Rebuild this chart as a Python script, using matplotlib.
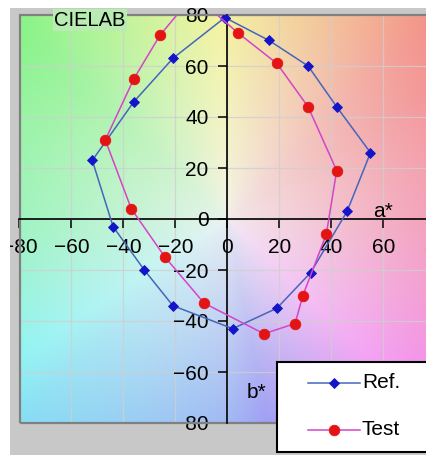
import numpy as np
import matplotlib
matplotlib.use("Agg")
import matplotlib.pyplot as plt
from matplotlib.colors import hsv_to_rgb
from matplotlib.patches import Rectangle
from matplotlib.lines import Line2D

plt.rcParams['font.family'] = ['Liberation Sans', 'DejaVu Sans']

# Chromaticity coordinates (a*, b*) of the two gamut outlines
ref_a = [-1, 16, 31, 42, 55, 46, 32, 19, 2, -21, -32, -44, -52, -36, -21, -1]
ref_b = [79, 70, 60, 44, 26, 3, -21, -35, -43, -34, -20, -3, 23, 46, 63, 79]
test_a = [-13, 4, 19, 31, 42, 38, 29, 26, 14, -9, -24, -37, -47, -36, -26, -13]
test_b = [88, 73, 61, 44, 19, -6, -30, -41, -45, -33, -15, 4, 31, 55, 72, 88]

series_names = ["Ref.", "Test"]
tick_values = list(range(-80, 81, 20))

W, H = 427, 455
fig = plt.figure(figsize=(W / 100, H / 100), dpi=100, facecolor='#c8c8c8')
ax = fig.add_axes([19.5 / W, 1 - 423 / H, 416 / W, 408 / H])
ax.set_xlim(-80, 80)
ax.set_ylim(-80, 80)

# Pastel a*/b* colour plane behind the plot
n = 300
ga, gb = np.meshgrid(np.linspace(-80, 80, n), np.linspace(-80, 80, n))
theta = np.degrees(np.arctan2(gb, ga)) % 360
hue_deg = np.interp(theta, [0, 45, 90, 135, 180, 225, 270, 315, 360],
                    [-18, 6, 57, 118, 142, 192, 222, 300, 342]) % 360
r = np.hypot(ga, gb)
sat = 0.40 * np.clip(r / 110, 0, 1) ** 0.9 + 0.04
val = np.full_like(r, 0.955)
rgb = hsv_to_rgb(np.dstack([hue_deg / 360, sat, val]))
ax.imshow(rgb, extent=[-80, 80, -80, 80], origin='lower', aspect='auto',
          interpolation='bilinear', zorder=0)

ax.grid(True, color='#cfcfcf', lw=0.9, alpha=0.8)
ax.set_xticks(tick_values)
ax.set_yticks(tick_values)

# Axes crossing at the origin
for side in ('right', 'top'):
    ax.spines[side].set_visible(False)
ax.spines['left'].set_position(('data', 0))
ax.spines['bottom'].set_position(('data', 0))
for side in ('left', 'bottom'):
    ax.spines[side].set_linewidth(1.2)
    ax.spines[side].set_color('black')
ax.tick_params(direction='out', length=6.5, width=1.1, labelsize=15, pad=7,
               colors='black')

# Plot-area frame
ax.add_patch(Rectangle((0, 0), 1, 1, transform=ax.transAxes, fill=False,
                       ec='#808080', lw=1.6, zorder=2.4, clip_on=False))

ref_style = dict(color='#4466bb', lw=1.1, marker='D', ms=5.6,
                 mfc='#1414c8', mec='#1414c8', mew=0.6)
test_style = dict(color='#d444c8', lw=1.1, marker='o', ms=7.6,
                  mfc='#e41414', mec='#e41414', mew=0.6)
ax.plot(ref_a, ref_b, zorder=3, **ref_style)
ax.plot(test_a, test_b, zorder=3.1, **test_style)

ax.text(60, 3, 'a*', ha='center', va='center', fontsize=15, zorder=4)
ax.text(11, -68, 'b*', ha='center', va='center', fontsize=15, zorder=4)

fig.text(90 / W, 1 - 20 / H, 'CIELAB', ha='center', va='center', fontsize=14.5,
         bbox=dict(boxstyle='square,pad=0.05', fc='#b8ecb0', ec='none'), zorder=5)

# Legend box
fig.add_artist(Rectangle((277 / W, 1 - 452 / H), 170 / W, 90 / H,
                         transform=fig.transFigure, fc='white', ec='black',
                         lw=1.5, zorder=6))
for name, style, ypix in zip(series_names, [ref_style, test_style], [383, 429.5]):
    yf = 1 - ypix / H
    fig.add_artist(Line2D([308 / W, 360 / W], [yf, yf], transform=fig.transFigure,
                          color=style['color'], lw=style['lw'], zorder=7))
    fig.add_artist(Line2D([334 / W], [yf], transform=fig.transFigure, ls='none',
                          marker=style['marker'], ms=style['ms'], mfc=style['mfc'],
                          mec=style['mec'], mew=style['mew'], zorder=7))
    fig.text(362 / W, yf, name, ha='left', va='center', fontsize=15, zorder=8)

# Light margins along the left and top edges
fig.add_artist(Rectangle((0, 0), 10.5 / W, 1, transform=fig.transFigure,
                         fc='white', ec='none', zorder=20))
fig.add_artist(Rectangle((0, 1 - 8 / H), 1, 8 / H, transform=fig.transFigure,
                         fc='white', ec='none', zorder=20))

fig.savefig('out.png', dpi=100, facecolor=fig.get_facecolor())
